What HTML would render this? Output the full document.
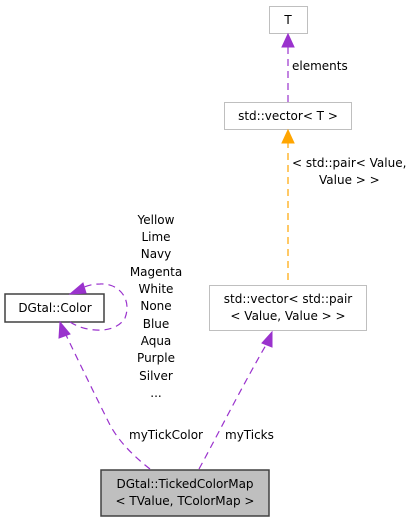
<!DOCTYPE html>
<html><head><style>
html,body{margin:0;padding:0;background:#fff;width:419px;height:523px;overflow:hidden}
text{font-family:"DejaVu Sans","Liberation Sans",sans-serif;font-size:12px;fill:#000}
</style></head><body>
<svg width="419" height="523" viewBox="0 0 419 523" xmlns="http://www.w3.org/2000/svg">
<rect x="269.5" y="6.5" width="38" height="27" fill="#fff" stroke="#bfbfbf"/>
<text x="288" y="24" text-anchor="middle">T</text>
<rect x="224.5" y="102.5" width="127" height="27" fill="#fff" stroke="#bfbfbf"/>
<text x="288" y="120" text-anchor="middle">std::vector&lt; T &gt;</text>
<rect x="209.5" y="285.5" width="157" height="45" fill="#fff" stroke="#bfbfbf"/>
<text x="288" y="303" text-anchor="middle">std::vector&lt; std::pair</text>
<text x="288" y="320" text-anchor="middle">&lt; Value, Value &gt; &gt;</text>
<rect x="5" y="294" width="99" height="28" fill="#fff" stroke="#404040" stroke-width="1.5"/>
<text x="55" y="312" text-anchor="middle">DGtal::Color</text>
<rect x="101" y="470" width="168" height="46" fill="#bfbfbf" stroke="#404040" stroke-width="1.5"/>
<text x="185" y="488" text-anchor="middle">DGtal::TickedColorMap</text>
<text x="185" y="505" text-anchor="middle">&lt; TValue, TColorMap &gt;</text>
<g fill="none" stroke-dasharray="7,5" stroke-width="1.2">
<line x1="288" y1="102" x2="288" y2="46" stroke="#9a32cd"/>
<line x1="288" y1="280" x2="288" y2="142" stroke="#ffa500"/>
<path d="M199,469 C215,440 240,390 266,345" stroke="#9a32cd"/>
<path d="M150,469 C132,455 118,440 110,425 C95,395 78,360 66,335" stroke="#9a32cd"/>
<path d="M70,322 C85,332 115,335 125,318 C132,300 120,283 100,284 C92,284 86,286 82,288" stroke="#9a32cd"/>
</g>
<g stroke-width="1">
<polygon points="288,34 282,47 294,47" fill="#9a32cd" stroke="#9a32cd"/>
<polygon points="288,130 282,143 294,143" fill="#ffa500" stroke="#ffa500"/>
<polygon points="272,332 262,343 272,347" fill="#9a32cd" stroke="#9a32cd"/>
<polygon points="60,322 59,338 70,334" fill="#9a32cd" stroke="#9a32cd"/>
<polygon points="70,294 83,283 86,293" fill="#9a32cd" stroke="#9a32cd"/>
</g>
<text x="292" y="70">elements</text>
<text x="292" y="167">&lt; std::pair&lt; Value,</text>
<text x="319" y="184">Value &gt; &gt;</text>
<g text-anchor="middle">
<text x="156" y="224">Yellow</text>
<text x="156" y="241">Lime</text>
<text x="156" y="258">Navy</text>
<text x="156" y="276">Magenta</text>
<text x="156" y="293">White</text>
<text x="156" y="310">None</text>
<text x="156" y="328">Blue</text>
<text x="156" y="345">Aqua</text>
<text x="156" y="362">Purple</text>
<text x="156" y="380">Silver</text>
<text x="156" y="397">...</text>
</g>
<text x="129" y="439">myTickColor</text>
<text x="225" y="439">myTicks</text>
</svg>
</body></html>
